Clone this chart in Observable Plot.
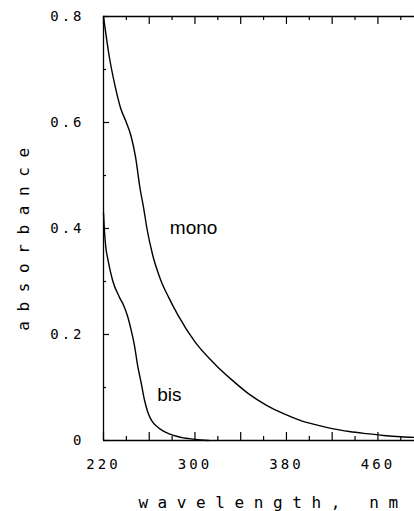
<!DOCTYPE html>
<html>
<head>
<meta charset="utf-8">
<script src="https://cdn.jsdelivr.net/npm/d3@7"></script>
<script src="https://cdn.jsdelivr.net/npm/@observablehq/plot@0.6"></script>
<style>
  html, body { margin: 0; padding: 0; background: #fff; }
  #chart svg { display: block; }
</style>
</head>
<body>
<div id="chart"></div>
<script>
// mono curve (wavelength nm, absorbance)
const monoWl  = [220, 225, 230, 235, 240, 244, 248, 252, 255, 258, 263, 270, 277, 285, 300, 317, 333, 347, 363, 377, 392, 407, 421, 435, 450, 465, 480, 492];
const monoAbs = [0.80, 0.725, 0.67, 0.627, 0.60, 0.575, 0.535, 0.475, 0.44, 0.40, 0.35, 0.303, 0.27, 0.237, 0.186, 0.145, 0.113, 0.088, 0.066, 0.051, 0.038, 0.029, 0.022, 0.017, 0.013, 0.0095, 0.007, 0.0058];
// bis curve
const bisWl  = [220, 221, 222, 224, 228, 234, 238, 241, 244, 247, 250, 253, 256, 259, 262, 267, 272, 278, 284, 290, 297, 305, 312];
const bisAbs = [0.43, 0.39, 0.365, 0.34, 0.302, 0.27, 0.253, 0.235, 0.21, 0.18, 0.14, 0.108, 0.075, 0.052, 0.038, 0.026, 0.018, 0.012, 0.008, 0.005, 0.003, 0.001, 0.0];

const xMajor = [220, 260, 300, 340, 380, 420, 460];
const xMinor = [240, 280, 320, 360, 400, 440, 480];
const xLabels = [220, 300, 380, 460];
const yMajor = [0, 0.2, 0.4, 0.6, 0.8];
const yMinor = [0.1, 0.3, 0.5, 0.7];
const yLabels = [0, 0.2, 0.4, 0.6, 0.8];
const seriesNames = ["mono", "bis"];
const labelWl = [278, 267];
const labelAbs = [0.389, 0.074];
const xTitle = "wavelength, nm";
const yTitle = "absorbance";

const mono = monoWl.map((w, i) => ({wl: w, abs: monoAbs[i]}));
const bis = bisWl.map((w, i) => ({wl: w, abs: bisAbs[i]}));
const labels = seriesNames.map((n, i) => ({name: n, wl: labelWl[i], abs: labelAbs[i]}));

const W = 414, H = 511, mL = 103, mR = 0, mT = 16, mB = 71;
const innerH = H - mT - mB, innerW = W - mL - mR;
const plotFont = "'DejaVu Sans Mono', monospace";

const chart = Plot.plot({
  width: W, height: H,
  marginLeft: mL, marginRight: mR, marginTop: mT, marginBottom: mB,
  x: {domain: [220, 492]},
  y: {domain: [0, 0.8]},
  style: {fontFamily: plotFont, fontSize: "14px", color: "#000", background: "#fff"},
  marks: [
    // frame lines
    Plot.ruleY([0], {stroke: "#000", strokeWidth: 1.3}),
    Plot.ruleY([0.8], {stroke: "#000", strokeWidth: 1.3}),
    Plot.ruleX([220], {stroke: "#000", strokeWidth: 1.3}),
    // bottom ticks (inward)
    Plot.tickX(xMajor, {x: d => d, insetTop: innerH - 8, stroke: "#000", strokeWidth: 1.2}),
    Plot.tickX(xMinor, {x: d => d, insetTop: innerH - 4, stroke: "#000", strokeWidth: 1.2}),
    // top ticks (inward)
    Plot.tickX(xMajor, {x: d => d, insetBottom: innerH - 8, stroke: "#000", strokeWidth: 1.2}),
    Plot.tickX(xMinor, {x: d => d, insetBottom: innerH - 4, stroke: "#000", strokeWidth: 1.2}),
    // left ticks (inward)
    Plot.tickY(yMajor, {y: d => d, insetRight: innerW - 6, stroke: "#000", strokeWidth: 1.2}),
    Plot.tickY(yMinor, {y: d => d, insetRight: innerW - 3, stroke: "#000", strokeWidth: 1.2}),
    // tick labels
    Plot.axisX(xLabels, {anchor: "bottom", tickSize: 0, tickPadding: 19, tickFormat: d => String(d), label: null, fontSize: 14}),
    Plot.axisY(yLabels, {anchor: "left", tickSize: 0, tickPadding: 19, tickFormat: d => d === 0 ? "0" : d.toFixed(1), label: null, fontSize: 14}),
    // curves
    Plot.line(mono, {x: "wl", y: "abs", curve: "monotone-x", stroke: "#000", strokeWidth: 1.4}),
    Plot.line(bis, {x: "wl", y: "abs", curve: "monotone-x", stroke: "#000", strokeWidth: 1.4}),
    // series labels
    Plot.text(labels, {x: "wl", y: "abs", text: "name", textAnchor: "start", lineAnchor: "bottom", fontFamily: "'Liberation Sans', Arial, sans-serif", fontSize: 19}),
    // axis titles
    Plot.text([xTitle], {frameAnchor: "bottom", textAnchor: "middle", dy: 67, dx: 14, fontSize: 16}),
    Plot.text([yTitle], {frameAnchor: "left", textAnchor: "middle", rotate: -90, dx: -80, dy: 6, fontSize: 16})
  ]
});
// letter spacing of the plotter-style text
d3.select(chart).selectAll("text").each(function () {
  const t = this.textContent;
  if (t === xTitle || t === yTitle) d3.select(this).style("letter-spacing", "9.6px");
  else if (t !== "mono" && t !== "bis") d3.select(this).style("letter-spacing", "3px");
});
document.getElementById("chart").appendChild(chart);
</script>
</body>
</html>
